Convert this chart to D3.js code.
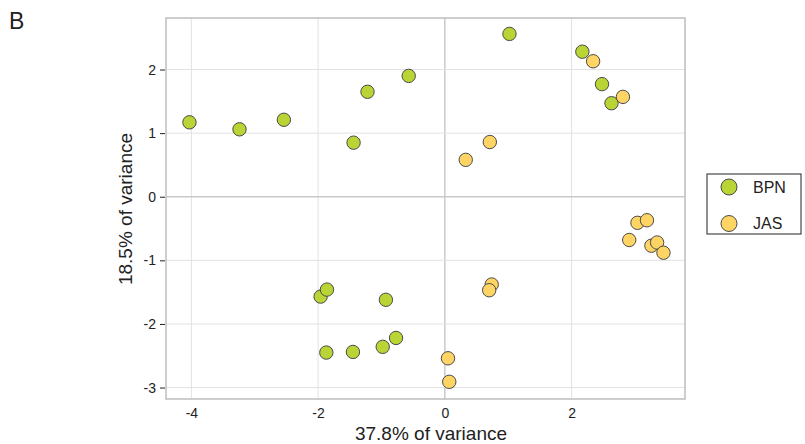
<!DOCTYPE html>
<html>
<head>
<meta charset="utf-8">
<script src="https://cdn.jsdelivr.net/npm/d3@7"></script>
<style>
body { margin: 0; background: #fff; }
text { font-family: "Liberation Sans", Arial, sans-serif; }
</style>
</head>
<body>
<svg id="viz"></svg>
<script>
// PCA scores
var groups = ["BPN", "JAS"]
var colors = ["#b8d435", "#fed564"]

var bpnX = [-4.03, -3.24, -2.54, -1.44, -1.22, -0.57, 1.02, 2.17, 2.48, 2.63,
	-1.96, -1.86, -0.93, -0.77, -0.98, -1.45, -1.87]
var bpnY = [1.17, 1.06, 1.21, 0.85, 1.65, 1.90, 2.56, 2.28, 1.77, 1.47,
	-1.57, -1.46, -1.62, -2.22, -2.36, -2.44, -2.45]

var jasX = [2.34, 2.81, 0.71, 0.33, 0.05, 0.07, 0.74, 0.70, 2.91, 3.04, 3.19, 3.26, 3.35, 3.45]
var jasY = [2.13, 1.57, 0.86, 0.58, -2.54, -2.91, -1.38, -1.47, -0.68, -0.41, -0.37, -0.77, -0.72, -0.88]

var xTicks = [-4, -2, 0, 2]
var yTicks = [-3, -2, -1, 0, 1, 2]

var width = 805, height = 444
var margin = {left: 166, right: 120, top: 18, bottom: 45}

var svg = d3.select("#viz").attr("width", width).attr("height", height)

var x = d3.scaleLinear().domain([-4.4, 3.79]).range([margin.left, width - margin.right])
var y = d3.scaleLinear().domain([-3.18, 2.81]).range([height - margin.bottom, margin.top])

var x0 = margin.left, x1 = width - margin.right
var y0 = margin.top, y1 = height - margin.bottom

// grid
svg.selectAll(".gx").data(xTicks).enter().append("line")
	.attr("x1", d => x(d)).attr("x2", d => x(d))
	.attr("y1", y0).attr("y2", y1)
	.attr("stroke", d => d == 0 ? "#c9c9c9" : "#e2e2e2")
	.attr("stroke-width", d => d == 0 ? 1.5 : 1)

svg.selectAll(".gy").data(yTicks).enter().append("line")
	.attr("y1", d => y(d)).attr("y2", d => y(d))
	.attr("x1", x0).attr("x2", x1)
	.attr("stroke", d => d == 0 ? "#c9c9c9" : "#e2e2e2")
	.attr("stroke-width", d => d == 0 ? 1.5 : 1)

svg.append("rect")
	.attr("x", x0).attr("y", y0)
	.attr("width", x1 - x0).attr("height", y1 - y0)
	.attr("fill", "none").attr("stroke", "#bdbdbd").attr("stroke-width", 1.5)

// axes
var fmt = d => String(d)
var yAxis = d3.axisLeft(y).tickValues(yTicks).tickFormat(fmt).tickSize(5).tickPadding(4)
var gy = svg.append("g").attr("transform", "translate(" + (x0 - 1) + ",0)").call(yAxis)
gy.select(".domain").remove()
gy.selectAll("line").attr("stroke", "#222")
gy.selectAll("text").attr("font-size", 14).attr("fill", "#222")

var xAxis = d3.axisBottom(x).tickValues(xTicks).tickFormat(fmt).tickSize(0).tickPadding(9)
var gx = svg.append("g").attr("transform", "translate(0," + y1 + ")").call(xAxis)
gx.select(".domain").remove()
gx.selectAll("text").attr("font-size", 14).attr("fill", "#222")

svg.append("text")
	.attr("x", 431).attr("y", 440)
	.attr("text-anchor", "middle").attr("font-size", 19).attr("fill", "#222")
	.text("37.8% of variance")

svg.append("text")
	.attr("transform", "translate(132,209) rotate(-90)")
	.attr("text-anchor", "middle").attr("font-size", 19).attr("fill", "#222")
	.text("18.5% of variance")

svg.append("text")
	.attr("x", 9).attr("y", 29).attr("font-size", 23).attr("fill", "#222")
	.text("B")

// points
var dots = []
for (let i = 0; i < bpnX.length; i++) dots.push({g: 0, x: bpnX[i], y: bpnY[i]})
for (let i = 0; i < jasX.length; i++) dots.push({g: 1, x: jasX[i], y: jasY[i]})

svg.selectAll("circle.pt").data(dots).enter().append("circle")
	.attr("class", "pt")
	.attr("cx", d => x(d.x)).attr("cy", d => y(d.y))
	.attr("r", 6.7)
	.attr("fill", d => colors[d.g])
	.attr("stroke", "#4a4a4a").attr("stroke-width", 1)

// legend
var lg = svg.append("g").attr("transform", "translate(707,174)")
lg.append("rect").attr("width", 94).attr("height", 60)
	.attr("fill", "#fff").attr("stroke", "#222").attr("stroke-width", 1)
groups.forEach(function(name, i) {
	lg.append("circle").attr("cx", 22).attr("cy", 13 + i * 36.5).attr("r", 8)
		.attr("fill", colors[i]).attr("stroke", "#4a4a4a").attr("stroke-width", 1)
	lg.append("text").attr("x", 46).attr("y", 13 + i * 36.5 + 5.5)
		.attr("font-size", 16).attr("fill", "#222").text(name)
})
</script>
</body>
</html>
